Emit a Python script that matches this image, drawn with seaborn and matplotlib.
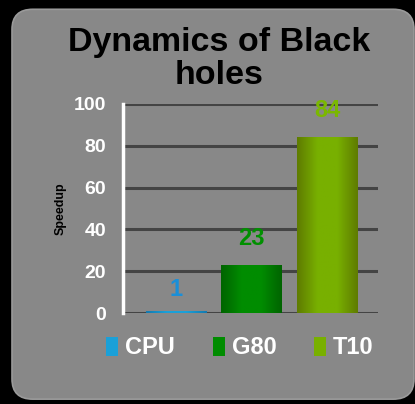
import matplotlib
matplotlib.use("Agg")
import matplotlib.pyplot as plt
import seaborn as sns
import pandas as pd
import numpy as np
from matplotlib.patches import FancyBboxPatch, Patch
from matplotlib.colors import LinearSegmentedColormap, to_rgb

# data
devices = ["CPU", "G80", "T10"]
speedup = [1, 23, 84]
bar_colors = ["#1aa0d8", "#008c00", "#78b000"]
edge_shades = ["#137ab0", "#006400", "#5f7c00"]
label_colors = ["#1a8fd8", "#009000", "#7ab800"]
y_ticks = [0, 20, 40, 60, 80, 100]

sns.set_style("white")
plt.rcParams["font.family"] = ["Liberation Sans", "DejaVu Sans"]

df = pd.DataFrame({"device": devices, "speedup": speedup})

fig = plt.figure(figsize=(4.15, 4.04), dpi=100, facecolor="black")

# gray rounded panel behind everything
panel = FancyBboxPatch((12 / 415, 0.012), 402 / 415, 0.965,
                       boxstyle="round,pad=0,rounding_size=0.05",
                       transform=fig.transFigure, facecolor="#888888",
                       edgecolor="#9a9a9a", linewidth=1.2, zorder=-10)
fig.patches.append(panel)

ax = fig.add_axes([123 / 415, 1 - 313 / 404, 255 / 415, 209 / 404])
ax.set_facecolor("none")

sns.barplot(data=df, x="device", y="speedup", hue="device",
            palette=bar_colors, width=0.81, saturation=1,
            legend=False, ax=ax, zorder=3, linewidth=0)

# horizontal shading on the bars, like the original
for bar, c, e in zip(ax.patches, bar_colors, edge_shades):
    x0, y0 = bar.get_x(), bar.get_y()
    w, h = bar.get_width(), bar.get_height()
    cmap = LinearSegmentedColormap.from_list("g", [to_rgb(e), to_rgb(c), to_rgb(c), to_rgb(e)])
    grad = np.linspace(0, 1, 64).reshape(1, -1)
    im = ax.imshow(grad, cmap=cmap, extent=(x0, x0 + w, y0, y0 + h),
                   aspect="auto", zorder=3.5, interpolation="bilinear")
    im.set_clip_path(bar)

for i, (v, c) in enumerate(zip(speedup, label_colors)):
    ax.annotate(str(v), (i, v), xytext=(0, 11 if v > 5 else 7),
                textcoords="offset points", ha="center", va="bottom",
                color=c, fontsize=17, fontweight="bold", zorder=4)

ax.set_xlim(-0.711, 2.678)
ax.set_ylim(0, 100)
ax.set_yticks(y_ticks)
ax.set_xticks([])
ax.grid(axis="y", color="#444444", linewidth=2.2, zorder=1)
ax.tick_params(axis="y", colors="white", labelsize=14, length=0, pad=12)
for t in ax.get_yticklabels():
    t.set_fontweight("bold")
for s in ["top", "right", "bottom"]:
    ax.spines[s].set_visible(False)
ax.spines["left"].set_color("white")
ax.spines["left"].set_linewidth(2.5)
ax.spines["left"].set_zorder(5)
ax.set_xlabel("")
ax.set_ylabel("Speedup", fontsize=9, fontweight="bold", color="black", labelpad=5)

fig.text(219 / 415, 1 - 59 / 404, "Dynamics of Black\nholes", ha="center", va="center",
         fontsize=24.5, fontweight="bold", color="black", linespacing=1.1)

handles = [Patch(facecolor=c, edgecolor="none") for c in bar_colors]
fig.legend(handles, devices, loc="center", bbox_to_anchor=(240 / 415, 1 - 348 / 404),
           ncol=3, frameon=False, labelcolor="white",
           prop={"weight": "bold", "size": 17}, handlelength=0.5, handleheight=0.9,
           handletextpad=0.3, columnspacing=1.6)

fig.savefig("out.png", dpi=100, facecolor="black")
